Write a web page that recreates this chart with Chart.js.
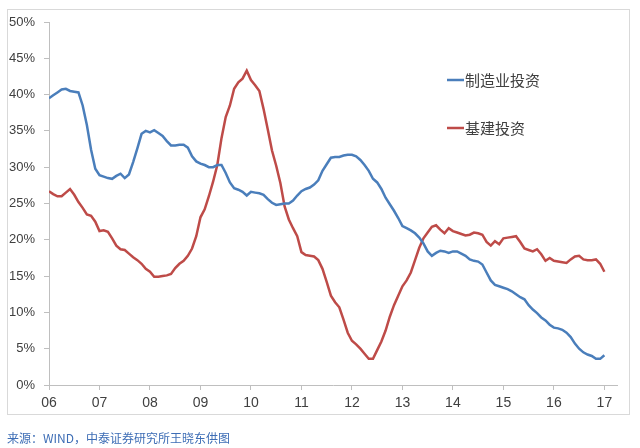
<!DOCTYPE html>
<html>
<head>
<meta charset="utf-8">
<script src="https://cdn.jsdelivr.net/npm/chart.js@4"></script>
<style>
  html, body { margin: 0; padding: 0; background: #fff; }
  #wrap { width: 640px; height: 448px; position: relative; }
</style>
</head>
<body>
<div id="wrap"><canvas id="invest" width="640" height="448"></canvas></div>
<script>
// monthly, Jan 2006 .. Jan 2017, cumulative yoy growth (%)
var startYear = 6;
var seriesNames = ['制造业投资', '基建投资'];
var manufacturing = [
  39.5, 39.9, 40.3, 40.7, 40.8, 40.5, 40.4, 40.3, 38.5, 35.8, 32.4, 29.8,
  28.9, 28.7, 28.5, 28.4, 28.8, 29.1, 28.5, 29.0, 30.7, 32.6, 34.6, 35.0,
  34.8, 35.1, 34.7, 34.3, 33.6, 33.0, 33.0, 33.1, 33.1, 32.7, 31.5, 30.8,
  30.5, 30.3, 30.0, 30.0, 30.3, 30.3, 29.2, 27.9, 27.1, 26.9, 26.6, 26.1,
  26.6, 26.5, 26.4, 26.2, 25.6, 25.1, 24.8, 24.9, 25.0, 25.0, 25.4, 26.1,
  26.7, 27.0, 27.2, 27.6, 28.2, 29.5, 30.4, 31.3, 31.4, 31.4, 31.6, 31.7,
  31.7, 31.5, 31.0, 30.3, 29.5, 28.4, 27.9, 27.0, 25.8, 24.9, 24.0, 23.0,
  21.9, 21.6, 21.3, 20.9, 20.3, 19.5, 18.4, 17.8, 18.2, 18.5, 18.4, 18.2,
  18.4, 18.4, 18.1, 17.8, 17.3, 17.1, 17.0, 16.6, 15.5, 14.4, 13.8, 13.6,
  13.4, 13.2, 12.9, 12.5, 12.1, 11.8, 11.0, 10.4, 9.9, 9.3, 8.9, 8.3,
  7.9, 7.8, 7.6, 7.2, 6.6, 5.7, 5.0, 4.5, 4.2, 4.0, 3.6, 3.6,
  4.1
];
var infrastructure = [
  26.7, 26.3, 26.0, 26.0, 26.5, 27.0, 26.2, 25.2, 24.4, 23.5, 23.3, 22.5,
  21.2, 21.3, 21.1, 20.2, 19.2, 18.7, 18.6, 18.1, 17.6, 17.2, 16.7, 16.0,
  15.6, 14.9, 14.9, 15.0, 15.1, 15.3, 16.1, 16.7, 17.1, 17.8, 18.8, 20.5,
  23.1, 24.2, 26.0, 28.0, 30.3, 34.0, 36.9, 38.5, 40.8, 41.7, 42.2, 43.3,
  42.0, 41.3, 40.5, 38.0, 35.2, 32.3, 30.2, 27.8, 24.6, 22.8, 21.6, 20.5,
  18.3, 17.9, 17.8, 17.7, 17.2, 16.0, 14.2, 12.3, 11.4, 10.7, 9.0, 7.2,
  6.1, 5.6, 5.0, 4.3, 3.6, 3.6, 4.8, 6.0, 7.5, 9.4, 11.0, 12.3,
  13.6, 14.4, 15.5, 17.2, 18.9, 20.2, 21.0, 21.8, 22.0, 21.4, 20.9, 21.6,
  21.2, 21.0, 20.8, 20.6, 20.7, 21.0, 20.9, 20.7, 19.7, 19.2, 19.8, 19.4,
  20.2, 20.3, 20.4, 20.5, 19.7, 18.8, 18.6, 18.4, 18.7, 18.0, 17.1, 17.5,
  17.1, 17.0, 16.9, 16.8, 17.3, 17.7, 17.8, 17.3, 17.2, 17.2, 17.3, 16.7,
  15.6
];
var sourceNote = '来源：WIND，中泰证券研究所王晓东供图';

function toPoints(arr) {
  return arr.map(function (v, i) { return { x: startYear + i / 12, y: v }; });
}

var axisColor = '#bfbfbf';
var textColor = '#404040';

var decor = {
  id: 'decor',
  beforeDraw: function (chart) {
    var c = chart.ctx;
    c.save();
    c.strokeStyle = '#d9d9d9';
    c.lineWidth = 1;
    c.strokeRect(7.5, 9.5, 622, 405);
    c.restore();
  },
  afterDraw: function (chart) {
    var c = chart.ctx;
    c.save();
    // legend inside the plot
    var rows = [80, 128];
    chart.data.datasets.forEach(function (ds, k) {
      var y = rows[k];
      c.strokeStyle = ds.borderColor;
      c.lineWidth = 2.5;
      c.beginPath();
      c.moveTo(447, y);
      c.lineTo(464, y);
      c.stroke();
      c.fillStyle = textColor;
      c.font = '15px "Noto Sans CJK SC"';
      c.textBaseline = 'middle';
      c.fillText(ds.label, 465, y);
    });
    // source line
    c.fillStyle = '#3d6db5';
    c.font = '12px "Noto Sans CJK SC"';
    c.textBaseline = 'middle';
    c.fillText(sourceNote, 7, 438);
    c.restore();
  }
};

var ctx = document.getElementById('invest');
var chart = new Chart(ctx, {
  type: 'line',
  data: {
    datasets: [{
      label: seriesNames[0],
      data: toPoints(manufacturing),
      borderColor: '#4a7ebb',
      borderWidth: 2.5,
      pointRadius: 0,
      tension: 0
    }, {
      label: seriesNames[1],
      data: toPoints(infrastructure),
      borderColor: '#be4b48',
      borderWidth: 2.5,
      pointRadius: 0,
      tension: 0
    }]
  },
  options: {
    responsive: false,
    animation: false,
    layout: { padding: { left: 0, right: 23, top: 22, bottom: 33 } },
    plugins: {
      legend: { display: false },
      tooltip: { enabled: false }
    },
    scales: {
      x: {
        type: 'linear',
        min: 6,
        max: 17.25,
        afterFit: function (s) { s.height = 30; },
        border: { display: true, color: axisColor, width: 1 },
        grid: { drawOnChartArea: false, drawTicks: true, tickLength: 5, color: axisColor },
        ticks: {
          stepSize: 1,
          includeBounds: false,
          padding: 5,
          color: textColor,
          font: { family: 'Liberation Sans', size: 14 },
          maxRotation: 0,
          callback: function (v) { return (v < 10 ? '0' : '') + v; }
        }
      },
      y: {
        min: 0,
        max: 50,
        afterFit: function (s) { s.width = 49; },
        border: { display: true, color: axisColor, width: 1 },
        grid: { drawOnChartArea: false, drawTicks: true, tickLength: 5, color: axisColor },
        ticks: {
          stepSize: 5,
          padding: 9,
          color: textColor,
          font: { family: 'Liberation Sans', size: 13 },
          callback: function (v) { return v + '%'; }
        }
      }
    }
  },
  plugins: [decor]
});
</script>
</body>
</html>
